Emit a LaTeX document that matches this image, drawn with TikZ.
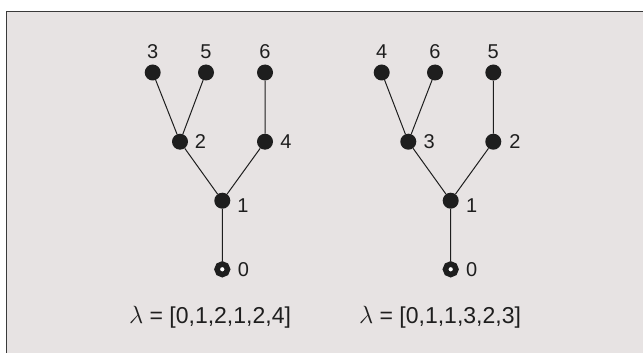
\documentclass[tikz,border=0pt]{standalone}
\usepackage{fontspec}
\setmainfont{Liberation Sans}
\definecolor{ink}{HTML}{1E1E1E}
\definecolor{bg}{HTML}{E7E3E3}
\definecolor{frame}{HTML}{3A3A3A}
\begin{document}
\begin{tikzpicture}[x=1pt,y=-1pt,
  dot/.style={circle,fill=ink,inner sep=0pt,minimum size=16pt},
  rootdot/.style={circle,draw=ink,line width=5.5pt,fill=white,inner sep=0pt,minimum size=10.5pt},
  lbl/.style={text=ink,inner sep=0pt,font=\fontsize{20}{22}\selectfont},
  captext/.style={text=ink,inner sep=0pt,font=\fontsize{23}{26}\selectfont},
  conn/.style={draw=ink,line width=1pt}]
\useasboundingbox (0,0) rectangle (643,353);
\fill[white] (0,0) rectangle (643,353);
\fill[bg] (6.5,11.5) rectangle (643,353);
\draw[frame,line width=1.4pt] (6.5,353) -- (6.5,11.5) -- (643,11.5);
% left tree
\node[dot] (a3) at (152.7,72.5) {};
\node[dot] (a5) at (206,72.5) {};
\node[dot] (a6) at (265,72.5) {};
\node[dot] (a2) at (180,141.7) {};
\node[dot] (a4) at (265,141.7) {};
\node[dot] (a1) at (222.3,200.7) {};
\node[rootdot] (a0) at (222.3,269.3) {};
\draw[conn] (a3) -- (a2) (a5) -- (a2) (a6) -- (a4) (a2) -- (a1) (a4) -- (a1) (a1) -- (a0);
\node[lbl] (la3) at (152.7,51.7) {3};
\node[lbl] (la5) at (206,51.7) {5};
\node[lbl] (la6) at (265,51.7) {6};
\node[lbl] (la2) at (200.5,141.7) {2};
\node[lbl] (la4) at (286,141.7) {4};
\node[lbl] (la1) at (243,206) {1};
\node[lbl] (la0) at (243.5,269.3) {0};
\node[captext] (capa) at (210,317) {$\lambda$ = [0,1,2,1,2,4]};
% right tree
\node[dot] (b4) at (381.7,72.5) {};
\node[dot] (b6) at (435,72.5) {};
\node[dot] (b5) at (493.3,72.5) {};
\node[dot] (b3) at (408.3,141.7) {};
\node[dot] (b2) at (493.3,141.7) {};
\node[dot] (b1) at (450.7,200.7) {};
\node[rootdot] (b0) at (450.7,269.3) {};
\draw[conn] (b4) -- (b3) (b6) -- (b3) (b5) -- (b2) (b3) -- (b1) (b2) -- (b1) (b1) -- (b0);
\node[lbl] (lb4) at (381.7,51.7) {4};
\node[lbl] (lb6) at (435,51.7) {6};
\node[lbl] (lb5) at (493.3,51.7) {5};
\node[lbl] (lb3) at (429.3,141.7) {3};
\node[lbl] (lb2) at (515,141.7) {2};
\node[lbl] (lb1) at (471.7,206) {1};
\node[lbl] (lb0) at (471.7,269.3) {0};
\node[captext] (capb) at (440,317) {$\lambda$ = [0,1,1,3,2,3]};
\end{tikzpicture}
\end{document}
